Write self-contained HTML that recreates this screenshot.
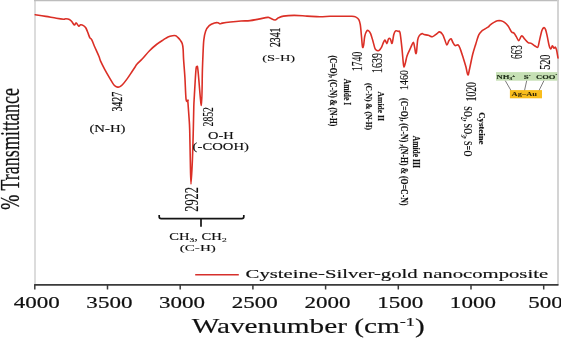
<!DOCTYPE html>
<html><head><meta charset="utf-8"><style>
html,body{margin:0;padding:0;background:#fff;}
svg{display:block;font-family:"Liberation Serif",serif;will-change:transform;}
</style></head><body>
<svg width="561" height="339" viewBox="0 0 561 339">
<rect width="561" height="339" fill="#fff"/>
<line x1="35" y1="0" x2="35" y2="285" stroke="#d4d4d4" stroke-width="1.6"/>
<line x1="34" y1="0.5" x2="559" y2="0.5" stroke="#bdbdbd" stroke-width="1.4"/>
<line x1="558" y1="0" x2="558" y2="285" stroke="#d0d0d0" stroke-width="1.8"/>
<rect x="496" y="72.1" width="61.5" height="8.6" fill="#c6e0b5"/>
<rect x="509.9" y="90.1" width="32.1" height="8.2" fill="#f9bd1c"/>
<g stroke="#5a5a5a" stroke-width="0.8"><line x1="505.3" y1="80.7" x2="510.8" y2="90.2"/><line x1="526.7" y1="80.7" x2="524.6" y2="90.2"/><line x1="543.9" y1="80.7" x2="539.2" y2="90.2"/></g>
<path d="M35.20,14.70 C36.97,14.98 42.27,15.80 45.80,16.40 C49.33,17.00 53.45,17.83 56.40,18.30 C59.35,18.77 61.93,19.12 63.50,19.20 C65.07,19.28 64.82,18.77 65.80,18.80 C66.78,18.83 68.42,18.95 69.40,19.40 C70.38,19.85 70.87,20.57 71.70,21.50 C72.53,22.43 73.65,24.77 74.40,25.00 C75.15,25.23 75.47,22.70 76.20,22.90 C76.93,23.10 78.07,25.88 78.80,26.20 C79.53,26.52 79.82,24.90 80.60,24.80 C81.38,24.70 82.62,25.07 83.50,25.60 C84.38,26.13 85.10,26.62 85.90,28.00 C86.70,29.38 87.63,32.25 88.30,33.90 C88.97,35.55 89.32,36.92 89.90,37.90 C90.48,38.88 91.08,38.50 91.80,39.80 C92.52,41.10 93.02,42.95 94.20,45.70 C95.38,48.45 97.83,53.72 98.90,56.30 C99.97,58.88 99.63,59.02 100.60,61.20 C101.57,63.38 103.23,66.65 104.70,69.40 C106.17,72.15 108.02,75.33 109.40,77.70 C110.78,80.07 112.02,82.18 113.00,83.60 C113.98,85.02 114.52,85.62 115.30,86.20 C116.08,86.78 117.00,86.98 117.70,87.10 C118.40,87.22 118.72,87.28 119.50,86.90 C120.28,86.52 121.13,86.13 122.40,84.80 C123.67,83.47 125.52,81.07 127.10,78.90 C128.68,76.73 130.52,73.87 131.90,71.80 C133.28,69.73 134.53,67.80 135.40,66.50 C136.27,65.20 135.93,65.30 137.10,64.00 C138.27,62.70 140.33,60.92 142.40,58.70 C144.47,56.48 147.15,53.07 149.50,50.70 C151.85,48.33 154.15,46.33 156.50,44.50 C158.85,42.67 161.68,40.97 163.60,39.70 C165.52,38.43 166.52,37.57 168.00,36.90 C169.48,36.23 171.22,35.90 172.50,35.70 C173.78,35.50 174.82,35.42 175.70,35.70 C176.58,35.98 177.02,36.62 177.80,37.40 C178.58,38.18 179.67,39.37 180.40,40.40 C181.13,41.43 181.75,42.18 182.20,43.60 C182.65,45.02 182.87,46.23 183.10,48.90 C183.33,51.57 183.30,54.88 183.60,59.60 C183.90,64.32 184.48,70.53 184.90,77.20 C185.32,83.87 185.58,95.75 186.10,99.60 C186.62,103.45 187.70,99.90 188.00,100.30 C188.30,100.70 187.72,98.97 187.90,102.00 C188.08,105.03 188.80,113.83 189.10,118.50 C189.40,123.17 189.50,123.08 189.70,130.00 C189.90,136.92 190.08,151.00 190.30,160.00 C190.52,169.00 190.65,184.00 191.00,184.00 C191.35,184.00 192.02,169.00 192.40,160.00 C192.78,151.00 193.07,138.87 193.30,130.00 C193.53,121.13 193.62,112.63 193.80,106.80 C193.98,100.97 194.05,101.05 194.40,95.00 C194.75,88.95 195.48,75.20 195.90,70.50 C196.32,65.80 196.55,66.80 196.90,66.80 C197.25,66.80 197.25,64.05 198.00,70.50 C198.75,76.95 200.67,105.58 201.40,105.50 C202.13,105.42 202.13,78.55 202.40,70.00 C202.67,61.45 202.77,59.18 203.00,54.20 C203.23,49.22 203.37,43.93 203.80,40.10 C204.23,36.27 204.70,33.62 205.60,31.20 C206.50,28.78 207.72,26.98 209.20,25.60 C210.68,24.22 213.03,23.38 214.50,22.90 C215.97,22.42 217.07,22.55 218.00,22.70 C218.93,22.85 219.37,23.73 220.10,23.80 C220.83,23.87 220.68,23.40 222.40,23.10 C224.12,22.80 227.30,22.35 230.40,22.00 C233.50,21.65 237.73,21.23 241.00,21.00 C244.27,20.77 247.07,20.92 250.00,20.60 C252.93,20.28 255.63,19.63 258.60,19.10 C261.57,18.57 265.90,17.58 267.80,17.40 C269.70,17.22 268.80,17.57 270.00,18.00 C271.20,18.43 273.58,20.03 275.00,20.00 C276.42,19.97 277.08,18.45 278.50,17.80 C279.92,17.15 280.88,16.50 283.50,16.10 C286.12,15.70 290.28,15.40 294.20,15.40 C298.12,15.40 302.72,15.87 307.00,16.10 C311.28,16.33 316.07,16.78 319.90,16.80 C323.73,16.82 327.03,16.28 330.00,16.20 C332.97,16.12 334.05,16.28 337.70,16.30 C341.35,16.32 348.87,16.17 351.90,16.30 C354.93,16.43 354.75,16.55 355.90,17.10 C357.05,17.65 358.07,18.33 358.80,19.60 C359.53,20.87 359.85,21.88 360.30,24.70 C360.75,27.52 361.13,32.80 361.50,36.50 C361.87,40.20 362.15,45.42 362.50,46.90 C362.85,48.38 363.23,47.13 363.60,45.40 C363.97,43.67 364.22,38.83 364.70,36.50 C365.18,34.17 365.88,32.38 366.50,31.40 C367.12,30.42 367.72,30.23 368.40,30.60 C369.08,30.97 369.85,31.87 370.60,33.60 C371.35,35.33 372.18,38.55 372.90,41.00 C373.62,43.45 374.33,46.77 374.90,48.30 C375.47,49.83 375.83,49.78 376.30,50.20 C376.77,50.62 377.23,50.78 377.70,50.80 C378.17,50.82 378.65,50.62 379.10,50.30 C379.55,49.98 379.97,49.47 380.40,48.90 C380.83,48.33 380.98,48.35 381.70,46.90 C382.42,45.45 383.83,40.75 384.70,40.20 C385.57,39.65 386.27,43.82 386.90,43.60 C387.53,43.38 387.93,39.68 388.50,38.90 C389.07,38.12 389.70,38.17 390.30,38.90 C390.90,39.63 391.52,44.03 392.10,43.30 C392.68,42.57 393.22,36.57 393.80,34.50 C394.38,32.43 394.85,31.43 395.60,30.90 C396.35,30.37 397.57,31.00 398.30,31.30 C399.03,31.60 399.42,30.10 400.00,32.70 C400.58,35.30 401.28,42.18 401.80,46.90 C402.32,51.62 402.75,57.67 403.10,61.00 C403.45,64.33 403.52,66.60 403.90,66.90 C404.28,67.20 404.87,64.67 405.40,62.80 C405.93,60.93 406.22,58.22 407.10,55.70 C407.98,53.18 409.67,49.92 410.70,47.70 C411.73,45.48 412.63,42.40 413.30,42.40 C413.97,42.40 414.32,45.93 414.70,47.70 C415.08,49.47 415.30,52.25 415.60,53.00 C415.90,53.75 416.15,54.40 416.50,52.20 C416.85,50.00 417.20,42.60 417.70,39.80 C418.20,37.00 418.75,36.43 419.50,35.40 C420.25,34.37 421.43,33.73 422.20,33.60 C422.97,33.47 423.08,34.33 424.10,34.60 C425.12,34.87 426.92,34.85 428.30,35.20 C429.68,35.55 431.03,36.90 432.40,36.70 C433.77,36.50 435.30,34.80 436.50,34.00 C437.70,33.20 438.57,31.80 439.60,31.90 C440.63,32.00 441.83,33.28 442.70,34.60 C443.57,35.92 444.10,38.07 444.80,39.80 C445.50,41.53 446.22,44.83 446.90,45.00 C447.58,45.17 448.22,41.83 448.90,40.80 C449.58,39.77 450.30,38.45 451.00,38.80 C451.70,39.15 452.42,41.77 453.10,42.90 C453.78,44.03 454.25,45.25 455.10,45.60 C455.95,45.95 457.33,44.42 458.20,45.00 C459.07,45.58 459.43,46.87 460.30,49.10 C461.17,51.33 462.47,55.47 463.40,58.40 C464.33,61.33 465.15,63.95 465.90,66.70 C466.65,69.45 467.28,74.57 467.90,74.90 C468.52,75.23 468.80,72.13 469.60,68.70 C470.40,65.27 471.67,58.43 472.70,54.30 C473.73,50.17 474.77,47.18 475.80,43.90 C476.83,40.62 477.85,36.80 478.90,34.60 C479.95,32.40 480.58,31.93 482.10,30.70 C483.62,29.47 486.63,28.18 488.00,27.20 C489.37,26.22 489.32,25.60 490.30,24.80 C491.28,24.00 492.72,23.07 493.90,22.40 C495.08,21.73 496.22,21.07 497.40,20.80 C498.58,20.53 499.82,20.53 501.00,20.80 C502.18,21.07 503.32,21.53 504.50,22.40 C505.68,23.27 506.92,24.42 508.10,26.00 C509.28,27.58 510.62,30.72 511.60,31.90 C512.58,33.08 513.22,32.32 514.00,33.10 C514.78,33.88 515.52,35.35 516.30,36.60 C517.08,37.85 517.92,40.60 518.70,40.60 C519.48,40.60 520.38,37.35 521.00,36.60 C521.62,35.85 521.75,35.65 522.40,36.10 C523.05,36.55 523.95,38.22 524.90,39.30 C525.85,40.38 527.03,41.92 528.10,42.60 C529.17,43.28 530.22,42.87 531.30,43.40 C532.38,43.93 533.52,45.17 534.60,45.80 C535.68,46.43 537.00,48.02 537.80,47.20 C538.60,46.38 538.72,43.70 539.40,40.90 C540.08,38.10 541.13,32.62 541.90,30.40 C542.67,28.18 543.38,27.73 544.00,27.60 C544.62,27.47 545.07,28.18 545.60,29.60 C546.13,31.02 546.60,33.40 547.20,36.10 C547.80,38.80 548.60,43.65 549.20,45.80 C549.80,47.95 550.27,49.00 550.80,49.00 C551.33,49.00 551.87,45.93 552.40,45.80 C552.93,45.67 553.52,47.98 554.00,48.20 C554.48,48.42 554.88,46.83 555.30,47.10 C555.72,47.37 556.17,48.67 556.50,49.80 C556.83,50.93 557.05,52.55 557.30,53.90 C557.55,55.25 557.88,57.23 558.00,57.90" fill="none" stroke="#db2f26" stroke-width="1.6" stroke-linejoin="round" stroke-linecap="round"/>
<line x1="34.2" y1="284.9" x2="558.5" y2="284.9" stroke="#3a3a3a" stroke-width="1.6"/>
<line x1="34.80" y1="284.5" x2="34.80" y2="289.5" stroke="#3a3a3a" stroke-width="1.5"/>
<line x1="107.50" y1="284.5" x2="107.50" y2="289.5" stroke="#3a3a3a" stroke-width="1.5"/>
<line x1="180.20" y1="284.5" x2="180.20" y2="289.5" stroke="#3a3a3a" stroke-width="1.5"/>
<line x1="252.90" y1="284.5" x2="252.90" y2="289.5" stroke="#3a3a3a" stroke-width="1.5"/>
<line x1="325.60" y1="284.5" x2="325.60" y2="289.5" stroke="#3a3a3a" stroke-width="1.5"/>
<line x1="398.30" y1="284.5" x2="398.30" y2="289.5" stroke="#3a3a3a" stroke-width="1.5"/>
<line x1="471.00" y1="284.5" x2="471.00" y2="289.5" stroke="#3a3a3a" stroke-width="1.5"/>
<line x1="543.70" y1="284.5" x2="543.70" y2="289.5" stroke="#3a3a3a" stroke-width="1.5"/>
<text transform="translate(36.70,307.67) scale(0.2304,0.1627)" font-size="100" text-anchor="middle" fill="#111" stroke="#111" stroke-width="1.29">4000</text>
<text transform="translate(109.40,307.67) scale(0.2304,0.1627)" font-size="100" text-anchor="middle" fill="#111" stroke="#111" stroke-width="1.29">3500</text>
<text transform="translate(182.10,307.67) scale(0.2304,0.1627)" font-size="100" text-anchor="middle" fill="#111" stroke="#111" stroke-width="1.29">3000</text>
<text transform="translate(254.80,307.67) scale(0.2304,0.1627)" font-size="100" text-anchor="middle" fill="#111" stroke="#111" stroke-width="1.29">2500</text>
<text transform="translate(327.50,307.67) scale(0.2304,0.1627)" font-size="100" text-anchor="middle" fill="#111" stroke="#111" stroke-width="1.29">2000</text>
<text transform="translate(400.20,307.67) scale(0.2304,0.1627)" font-size="100" text-anchor="middle" fill="#111" stroke="#111" stroke-width="1.29">1500</text>
<text transform="translate(472.90,307.67) scale(0.2304,0.1627)" font-size="100" text-anchor="middle" fill="#111" stroke="#111" stroke-width="1.29">1000</text>
<text transform="translate(545.60,307.67) scale(0.2304,0.1627)" font-size="100" text-anchor="middle" fill="#111" stroke="#111" stroke-width="1.29">500</text>
<line x1="195.2" y1="274.7" x2="238.8" y2="274.7" stroke="#d6302c" stroke-width="1.6"/>
<path d="M159.2,215.0 V216.8 Q159.2,218.7 161.2,218.7 H241.8 Q243.8,218.7 243.8,216.8 V215.0 M201.0,218.7 V226.7" fill="none" stroke="#141414" stroke-width="1.7"/>
<text transform="translate(191.70,333.20) scale(0.2927,0.2016)" font-size="100" fill="#111" stroke="#111" stroke-width="0.74">Wavenumber (cm<tspan dy="-38" font-size="62">-1</tspan><tspan dy="38">)</tspan></text>
<text transform="translate(245.57,277.70) scale(0.2072,0.1313)" font-size="100" fill="#111" stroke="#111" stroke-width="1.21">Cysteine-Silver-gold nanocomposite</text>
<text transform="translate(89.41,131.55) scale(0.1479,0.0978)" font-size="100" fill="#111" stroke="#111" stroke-width="1.25">(N-H)</text>
<text transform="translate(262.22,61.16) scale(0.1447,0.0922)" font-size="100" fill="#111" stroke="#111" stroke-width="1.04">(S-H)</text>
<text transform="translate(208.02,139.20) scale(0.1444,0.0993)" font-size="100" fill="#111" stroke="#111" stroke-width="1.25">O-H</text>
<text transform="translate(192.61,150.05) scale(0.1469,0.0978)" font-size="100" fill="#111" stroke="#111" stroke-width="1.25">(-COOH)</text>
<text transform="translate(169.32,239.70) scale(0.1460,0.1039)" font-size="100" fill="#111" stroke="#111" stroke-width="1.22">CH<tspan dy="22" font-size="65">3</tspan><tspan dy="-22">, CH</tspan><tspan dy="22" font-size="65">2</tspan></text>
<text transform="translate(179.80,250.70) scale(0.1509,0.0901)" font-size="100" fill="#111" stroke="#111" stroke-width="1.29">(C-H)</text>
<text transform="translate(19.24,209.74) scale(0.2806,0.1804) rotate(-90)" font-size="100" fill="#111" stroke="#111" stroke-width="0.98">% Transmittance</text>
<text transform="translate(121.74,111.59) scale(0.1561,0.0990) rotate(-90)" font-size="100" fill="#111" stroke="#111" stroke-width="1.45">3427</text>
<text transform="translate(197.71,211.80) scale(0.1924,0.1242) rotate(-90)" font-size="100" fill="#111" stroke="#111" stroke-width="0.78">2922</text>
<text transform="translate(213.30,126.38) scale(0.1478,0.0958) rotate(-90)" font-size="100" fill="#111" stroke="#111" stroke-width="1.01">2852</text>
<text transform="translate(279.95,46.99) scale(0.1478,0.0968) rotate(-90)" font-size="100" fill="#111" stroke="#111" stroke-width="2.09">2341</text>
<text transform="translate(362.40,71.07) scale(0.1500,0.0968) rotate(-90)" font-size="100" fill="#111" stroke="#111" stroke-width="1.00">1740</text>
<text transform="translate(382.31,72.89) scale(0.1426,0.0989) rotate(-90)" font-size="100" fill="#111" stroke="#111" stroke-width="1.01">1639</text>
<text transform="translate(407.94,89.89) scale(0.1279,0.0989) rotate(-90)" font-size="100" fill="#111" stroke="#111" stroke-width="1.07">1460</text>
<text transform="translate(476.02,101.25) scale(0.1397,0.0947) rotate(-90)" font-size="100" fill="#111" stroke="#111" stroke-width="1.04">1020</text>
<text transform="translate(522.38,58.97) scale(0.1582,0.0915) rotate(-90)" font-size="100" fill="#111" stroke="#111" stroke-width="1.00">663</text>
<text transform="translate(550.10,69.81) scale(0.1493,0.1014) rotate(-90)" font-size="100" fill="#111" stroke="#111" stroke-width="0.98">520</text>
<text transform="translate(330.47,55.60) scale(0.1033,0.0743) rotate(90)" font-size="100" font-weight="bold" fill="#111" stroke="#111" stroke-width="1.71">(C=O), (C-N) &amp; (N-H)</text>
<text transform="translate(343.70,78.82) scale(0.1043,0.0758) rotate(90)" font-size="100" font-weight="bold" fill="#111" stroke="#111" stroke-width="1.69">Amide I</text>
<text transform="translate(365.80,83.10) scale(0.0811,0.0751) rotate(90)" font-size="100" font-weight="bold" fill="#111" stroke="#111" stroke-width="1.92">(C-N) &amp; (N-H)</text>
<text transform="translate(377.69,91.62) scale(0.0886,0.0757) rotate(90)" font-size="100" font-weight="bold" fill="#111" stroke="#111" stroke-width="1.83">Amide II</text>
<text transform="translate(400.99,98.09) scale(0.1044,0.0779) rotate(90)" font-size="100" font-weight="bold" fill="#111" stroke="#111" stroke-width="1.66">(C=O), (C-N) ,(N-H) &amp; (O=C-N)</text>
<text transform="translate(413.31,135.72) scale(0.1057,0.0758) rotate(90)" font-size="100" font-weight="bold" fill="#111" stroke="#111" stroke-width="1.68">Amide III</text>
<text transform="translate(463.53,106.19) scale(0.1272,0.0818) rotate(90)" font-size="100" font-weight="bold" fill="#111">SO<tspan dy="16" font-size="58">2</tspan><tspan dy="-16">, SO</tspan><tspan dy="16" font-size="58">3</tspan><tspan dy="-16">, S=O</tspan></text>
<text transform="translate(479.43,112.16) scale(0.0822,0.0883) rotate(90)" font-size="100" font-weight="bold" fill="#111" stroke="#111" stroke-width="1.76">Cysteine</text>
<text transform="translate(496.53,79.00) scale(0.0863,0.0641)" font-size="100" font-weight="bold" fill="#1b2a16" stroke="#1b2a16" stroke-width="2.02">NH<tspan dy="22" font-size="65">3</tspan><tspan dy="-60" font-size="60">+</tspan></text>
<text transform="translate(523.85,79.20) scale(0.0899,0.0657)" font-size="100" font-weight="bold" fill="#1b2a16" stroke="#1b2a16" stroke-width="1.95">S<tspan dy="-40" font-size="60">-</tspan></text>
<text transform="translate(535.97,79.00) scale(0.0855,0.0672)" font-size="100" font-weight="bold" fill="#1b2a16" stroke="#1b2a16" stroke-width="1.98">COO<tspan dy="-40" font-size="60">-</tspan></text>
<text transform="translate(511.62,96.10) scale(0.0848,0.0626)" font-size="100" font-weight="bold" fill="#2a1f05">Ag–Au</text>
</svg>
</body></html>
